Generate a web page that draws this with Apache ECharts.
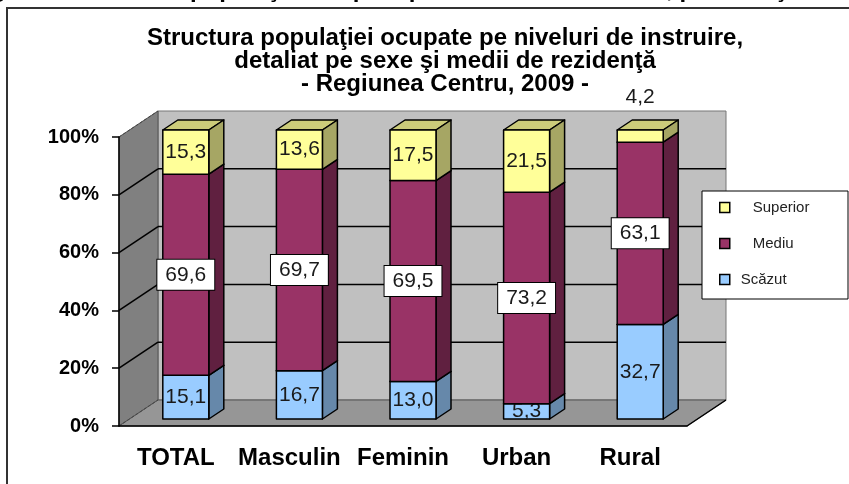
<!DOCTYPE html>
<html>
<head>
<meta charset="utf-8">
<title>Structura populaţiei ocupate</title>
<script src="https://cdn.jsdelivr.net/npm/echarts@6/dist/echarts.min.js"></script>
<style>
html, body { margin: 0; padding: 0; background: #fff; }
#chart { width: 849px; height: 484px; }
</style>
</head>
<body>
<div id="chart"></div>
<script type="text/javascript">
// date
var categories = ['TOTAL', 'Masculin', 'Feminin', 'Urban', 'Rural'];
var scazut   = [15.1, 16.7, 13.0, 5.3, 32.7];
var mediu    = [69.6, 69.7, 69.5, 73.2, 63.1];
var superior = [15.3, 13.6, 17.5, 21.5, 4.2];
var yTicks   = [0, 20, 40, 60, 80, 100];

// ordinea din stiva: jos -> sus
var levels = [
    {name: 'Scăzut',   data: scazut,   front: '#99CCFF', side: '#6688AA', top: '#7FAAD4', box: false},
    {name: 'Mediu',    data: mediu,    front: '#993366', side: '#602040', top: '#7A2952', box: true},
    {name: 'Superior', data: superior, front: '#FFFF99', side: '#A6A664', top: '#CCCC7A', box: false}
];

var DX = 39, DY = -26;       // adancimea peretilor
var BX = 15, BY = -10;       // adancimea barelor
var OX = 10, OY = -7;        // pozitia fetei din fata a barei
var HALF = 23;
var labelFont = '21px "Liberation Sans", Arial, sans-serif';

function fmt(v) {
    return v.toFixed(1).replace('.', ',');
}

function renderWalls(params, api) {
    var bw = api.size([1, 0])[0];
    var x0 = api.coord([0, 0])[0] - bw / 2;
    var x1 = api.coord([categories.length - 1, 0])[0] + bw / 2;
    var y0 = api.coord([0, 0])[1];
    var y100 = api.coord([0, 100])[1];
    var ch = [];
    // perete spate
    ch.push({type: 'polygon', shape: {points: [[x0 + DX, y100 + DY], [x1 + DX, y100 + DY], [x1 + DX, y0 + DY], [x0 + DX, y0 + DY]]},
        style: {fill: '#C0C0C0', stroke: '#777', lineWidth: 1}});
    // perete stanga
    ch.push({type: 'polygon', shape: {points: [[x0, y0], [x0, y100], [x0 + DX, y100 + DY], [x0 + DX, y0 + DY]]},
        style: {fill: '#808080', stroke: '#555', lineWidth: 1}});
    // podea
    ch.push({type: 'polygon', shape: {points: [[x0, y0], [x1, y0], [x1 + DX, y0 + DY], [x0 + DX, y0 + DY]]},
        style: {fill: '#969696', stroke: '#555', lineWidth: 1}});
    yTicks.forEach(function (t) {
        var y = api.coord([0, t])[1];
        var edge = (t === 0 || t === 100);
        ch.push({type: 'line', shape: {x1: x0, y1: y, x2: x0 + DX, y2: y + DY},
            style: {stroke: edge ? '#444' : '#000', lineWidth: edge ? 1 : 1.5, lineDash: edge ? [3, 2] : null}});
        if (!edge) {
            ch.push({type: 'line', shape: {x1: x0 + DX, y1: y + DY, x2: x1 + DX, y2: y + DY},
                style: {stroke: '#000', lineWidth: 1.5}});
        }
    });
    ch.push({type: 'line', shape: {x1: x1, y1: y0, x2: x1 + DX, y2: y0 + DY}, style: {stroke: '#000', lineWidth: 1.5}});
    return {type: 'group', children: ch};
}

function makeRender(li) {
    var lv = levels[li];
    return function (params, api) {
        var i = api.value(0);
        var base = 0;
        for (var k = 0; k < li; k++) base += levels[k].data[i];
        var val = lv.data[i];
        var cx = api.coord([i, 0])[0] + OX;
        var yb = api.coord([i, base])[1] + OY;
        var yt = api.coord([i, base + val])[1] + OY;
        var xl = cx - HALF, xr = cx + HALF;
        var st = {stroke: '#000', lineWidth: 1.5, lineJoin: 'round'};
        var ch = [
            {type: 'polygon', shape: {points: [[xl, yt], [xr, yt], [xr + BX, yt + BY], [xl + BX, yt + BY]]},
                style: Object.assign({fill: lv.top}, st)},
            {type: 'polygon', shape: {points: [[xr, yb], [xr, yt], [xr + BX, yt + BY], [xr + BX, yb + BY]]},
                style: Object.assign({fill: lv.side}, st)},
            {type: 'polygon', shape: {points: [[xl, yb], [xr, yb], [xr, yt], [xl, yt]]},
                style: Object.assign({fill: lv.front}, st)}
        ];
        var ly = (yb + yt) / 2;
        if (li === levels.length - 1 && val < 8) ly = yt - 33;
        var ts = {text: fmt(val), font: labelFont, fill: '#1a1a1a', align: 'center', verticalAlign: 'middle'};
        if (lv.box) {
            Object.assign(ts, {backgroundColor: '#fff', borderColor: '#000', borderWidth: 1, padding: [5, 8, 4, 8]});
        }
        ch.push({type: 'text', x: cx, y: ly, z2: 10, style: ts});
        return {type: 'group', children: ch};
    };
}

var chart = echarts.init(document.getElementById('chart'), null, {renderer: 'canvas'});

var series = [{
    name: 'walls',
    type: 'custom',
    z: 1,
    silent: true,
    renderItem: renderWalls,
    data: [[0, 0]]
}];
levels.forEach(function (lv, li) {
    series.push({
        name: lv.name,
        type: 'custom',
        z: 3 + li,
        renderItem: makeRender(li),
        itemStyle: {color: lv.front, borderColor: '#000', borderWidth: 1.5},
        data: categories.map(function (c, i) { return [i, lv.data[i]]; })
    });
});

chart.setOption({
    animation: false,
    title: {
        text: 'Structura populaţiei ocupate pe niveluri de instruire,\ndetaliat pe sexe şi medii de rezidenţă\n- Regiunea Centru, 2009 -',
        left: 440,
        textAlign: 'center',
        top: 22,
        textStyle: {
            fontFamily: '"Liberation Sans", Arial, sans-serif',
            fontWeight: 'bold',
            fontSize: 24,
            lineHeight: 23,
            color: '#000'
        }
    },
    graphic: [
        {type: 'text', left: -30, top: -22, z: 0, style: {
            text: 'Figura 5. Structura populaţiei ocupate pe niveluri de instruire, pe sexe şi medii de rezidenţă, 2009',
            font: 'bold 24px "Liberation Sans", Arial, sans-serif', fill: '#000'}},
        {type: 'rect', z: 1, shape: {x: 7, y: 8, width: 900, height: 600},
            style: {fill: '#fff', stroke: '#333', lineWidth: 2}},
        {type: 'rect', z: 20, shape: {x: 702, y: 191, width: 146, height: 108},
            style: {fill: '#fff', stroke: '#000', lineWidth: 1}}
    ],
    legend: {
        data: ['Superior', 'Mediu', 'Scăzut'],
        orient: 'vertical',
        left: 714,
        top: 195,
        z: 25,
        itemWidth: 10,
        itemHeight: 10,
        itemGap: 21,
        icon: 'rect',
        itemStyle: {borderColor: '#000', borderWidth: 1.5},
        formatter: function (name) {
            return name === 'Scăzut' ? '{a|' + name + '}' : '{b|' + name + '}';
        },
        textStyle: {
            fontFamily: '"Liberation Sans", Arial, sans-serif',
            fontSize: 15,
            color: '#222',
            rich: {
                a: {fontSize: 15, fontFamily: '"Liberation Sans", Arial, sans-serif', color: '#222', padding: [0, 0, 0, 6]},
                b: {fontSize: 15, fontFamily: '"Liberation Sans", Arial, sans-serif', color: '#222', padding: [0, 0, 0, 18]}
            }
        }
    },
    grid: {left: 119, right: 162, top: 137, bottom: 58},
    xAxis: {
        type: 'category',
        data: categories,
        z: 10,
        axisLine: {lineStyle: {color: '#000', width: 1.5}},
        axisTick: {length: 8, lineStyle: {color: '#000', width: 1.5}},
        axisLabel: {
            interval: 0,
            margin: 20,
            color: '#000',
            fontWeight: 'bold',
            fontSize: 24,
            fontFamily: '"Liberation Sans", Arial, sans-serif'
        }
    },
    yAxis: {
        type: 'value',
        min: 0,
        max: 100,
        interval: 20,
        z: 10,
        splitLine: {show: false},
        axisLine: {show: true, lineStyle: {color: '#000', width: 1.5}},
        axisTick: {show: true, length: 7, lineStyle: {color: '#000', width: 1.5}},
        axisLabel: {
            margin: 20,
            formatter: '{value}%',
            color: '#000',
            fontWeight: 'bold',
            fontSize: 20,
            fontFamily: '"Liberation Sans", Arial, sans-serif'
        }
    },
    series: series
});
</script>
</body>
</html>
